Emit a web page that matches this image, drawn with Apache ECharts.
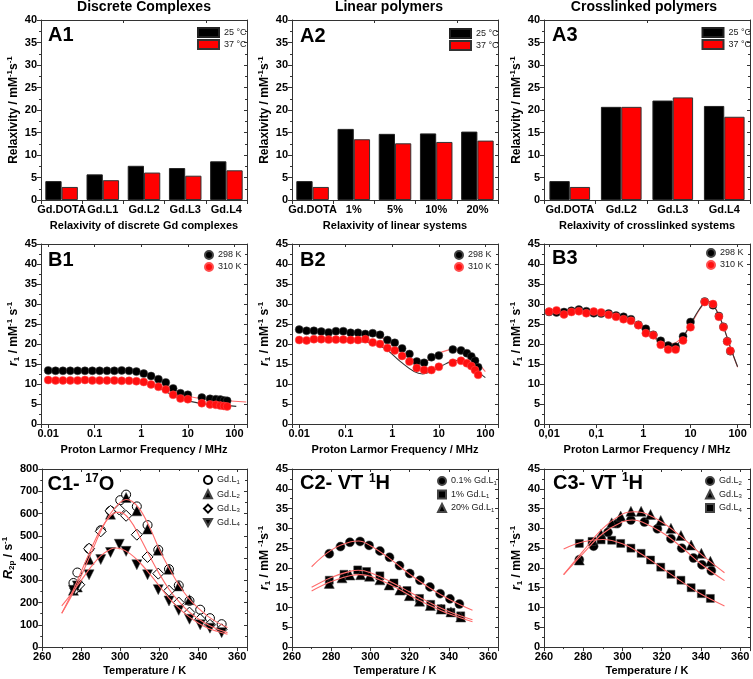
<!DOCTYPE html>
<html><head><meta charset="utf-8">
<script src="https://cdn.jsdelivr.net/npm/echarts@6/dist/echarts.min.js"></script>
<style>html,body{margin:0;padding:0;background:#fff}#c{width:753px;height:679px}</style>
</head><body><div id="c"></div>
<script>
const FONT = '"Liberation Sans", Arial, Helvetica, sans-serif';
const AXC = '#333';

// ---------- Row A : bar data ----------
const A1_CATS = ['Gd.DOTA', 'Gd.L1', 'Gd.L2', 'Gd.L3', 'Gd.L4'];
const A1_25 = [4.2, 5.7, 7.6, 7.1, 8.6];
const A1_37 = [2.9, 4.4, 6.1, 5.4, 6.6];
const A2_CATS = ['Gd.DOTA', '1%', '5%', '10%', '20%'];
const A2_25 = [4.2, 15.8, 14.7, 14.8, 15.2];
const A2_37 = [2.9, 13.5, 12.6, 12.9, 13.2];
const A3_CATS = ['Gd.DOTA', 'Gd.L2', 'Gd.L3', 'Gd.L4'];
const A3_25 = [4.2, 20.7, 22.1, 20.9];
const A3_37 = [2.9, 20.7, 22.8, 18.5];

// ---------- Row B : NMRD data ----------
const FREQ = [0.01, 0.01438, 0.02069, 0.02976, 0.04281, 0.06158, 0.08859, 0.1274, 0.1833, 0.2637, 0.3793, 0.5456, 0.7848, 1.129, 1.624, 2.336, 3.36, 4.833, 6.952, 10, 20, 30, 40, 50, 60, 70];
const B1_298 = [13.4, 13.3, 13.3, 13.3, 13.3, 13.3, 13.3, 13.3, 13.3, 13.3, 13.4, 13.3, 13.1, 12.6, 12.0, 11.2, 10.4, 8.9, 7.7, 7.3, 6.6, 6.3, 6.2, 6.1, 5.9, 5.8];
const B1_310 = [11.0, 10.9, 10.9, 10.9, 10.9, 11.0, 10.9, 10.9, 10.9, 10.9, 10.8, 10.8, 10.7, 10.5, 9.9, 9.3, 8.6, 7.3, 6.4, 6.2, 5.2, 4.9, 4.8, 4.6, 4.5, 4.4];
const B1_FIT_RED = [[0.01, 13.3], [0.1, 13.3], [0.5, 13.2], [1, 12.9], [1.5, 12.3], [2, 11.6], [3, 10.4], [5, 8.8], [7, 7.8], [10, 7.0], [20, 6.3], [40, 6.0], [70, 5.8], [100, 5.7], [180, 5.5]];
const B1_FIT_BLK = [[0.01, 11.0], [0.1, 11.0], [0.5, 10.9], [1, 10.6], [1.5, 10.1], [2, 9.5], [3, 8.4], [5, 7.1], [7, 6.3], [10, 5.8], [20, 5.1], [40, 4.8], [70, 4.6], [110, 4.4]];

const B2_298 = [23.6, 23.3, 23.3, 23.1, 22.9, 23.2, 23.2, 22.8, 22.8, 22.5, 22.7, 22.3, 21.0, 20.3, 18.9, 17.5, 15.6, 15.3, 16.7, 17.1, 18.6, 18.4, 17.7, 16.9, 15.8, 14.2];
const B2_310 = [21.0, 20.9, 21.2, 21.2, 21.1, 21.1, 21.1, 21.0, 21.0, 21.2, 20.4, 20.0, 19.0, 18.4, 17.0, 15.6, 14.0, 13.5, 13.5, 14.3, 15.3, 15.8, 15.2, 14.5, 13.5, 12.3];
const B2_FIT_RED = [[0.01, 23.3], [0.05, 23.1], [0.25, 22.9], [0.5, 22.0], [0.92, 20.2], [1.5, 18.2], [2.1, 16.9], [3, 16.0], [4.8, 15.6], [7, 16.4], [9.3, 17.5], [15, 18.4], [21.5, 18.7], [30, 18.5], [41.5, 17.7], [60, 16.0], [100, 13.1]];
const B2_FIT_BLK = [[0.01, 20.9], [0.05, 20.8], [0.25, 20.5], [0.66, 19.0], [1.5, 15.6], [2.95, 13.1], [4.5, 12.5], [8, 13.5], [12, 14.6], [18, 15.6], [27.5, 15.9], [40, 15.2], [49, 14.4], [70, 13.0], [100, 11.6]];

const B3_298 = [28.0, 27.9, 28.0, 28.3, 28.6, 28.2, 27.7, 27.6, 27.6, 27.1, 26.8, 26.2, 24.8, 23.8, 22.3, 20.8, 19.6, 19.3, 21.9, 25.5, 30.6, 29.7, 27.0, 24.3, 20.7, 18.2];
const B3_310 = [28.1, 28.4, 27.4, 28.0, 28.2, 27.7, 28.1, 27.9, 27.3, 26.8, 26.2, 25.8, 24.7, 22.7, 22.2, 19.8, 18.6, 18.6, 20.9, 24.2, 30.5, 30.0, 26.8, 24.2, 20.6, 18.3];
const B3_FIT_BLK = [[0.8, 25.0], [1, 24.3], [1.5, 22.6], [2, 21.1], [3, 19.5], [4, 19.2], [5, 19.6], [7, 21.8], [10, 25.0], [15, 28.5], [20, 30.3], [25, 30.6], [30, 29.8], [40, 27.2], [50, 24.3], [60, 21.6], [70, 19.2], [100, 14.3]];
const B3_FIT_RED = [[0.8, 24.5], [1, 23.4], [1.5, 21.9], [2, 20.9], [3, 20.2], [4, 20.1], [5, 20.4], [7, 21.9], [10, 24.6], [15, 28.3], [20, 30.2], [25, 30.7], [30, 30.0], [40, 27.3], [50, 24.3], [60, 21.6], [70, 19.2], [100, 14.2]];

const LOG_LABELS = {'-2': '0.01', '-1': '0.1', '0': '1', '1': '10', '2': '100'};
const LOG_LABELS_COMMA = {'-2': '0,01', '-1': '0,1', '0': '1', '1': '10', '2': '100'};

// ---------- Row C : temperature data ----------
const C1_L1 = [[276, 288], [278, 335], [284, 442], [290, 525], [295, 612], [300, 660], [303, 685], [308.5, 632], [314, 548], [319.5, 437], [325, 350], [330, 277], [335.5, 208], [341, 168], [346, 130], [352, 103]];
const C1_L2 = [[276, 255], [278, 270], [284, 393], [295, 597], [303, 672], [308.5, 612], [314, 530], [319.5, 435], [325, 350], [330, 275], [335.5, 213]];
const C1_L3 = [[277, 262], [279, 280], [284, 442], [290, 520], [295, 612], [299.5, 618], [303, 590], [308.5, 505], [314, 405], [319.5, 330], [325, 253], [330, 200], [335.5, 155], [341, 125], [346, 100], [352, 80]];
const C1_L4 = [[276, 255], [278, 275], [284, 325], [290, 393], [295, 425], [299.5, 462], [303, 430], [308.5, 370], [314, 325], [319.5, 258], [325, 207], [330, 165], [335.5, 125], [341, 100], [346, 85], [352, 65]];
const C1_FIT_A = [[270, 152], [275, 230], [280, 320], [285, 420], [290, 520], [295, 600], [300, 650], [303, 663], [306, 655], [310, 620], [315, 540], [320, 440], [325, 355], [330, 280], [335, 220], [340, 175], [345, 138], [350, 110], [355, 88]];
const C1_FIT_B = [[270, 152], [275, 240], [280, 340], [285, 440], [290, 530], [295, 590], [298, 605], [300, 605], [305, 570], [310, 495], [315, 410], [320, 330], [325, 260], [330, 205], [335, 160], [340, 127], [345, 100], [350, 80], [355, 65]];
const C1_FIT_C = [[270, 185], [275, 240], [280, 300], [285, 360], [290, 410], [295, 440], [298, 445], [300, 443], [305, 420], [310, 380], [315, 330], [320, 275], [325, 220], [330, 175], [335, 138], [340, 108], [345, 85], [350, 70], [355, 58]];

const C2_01 = [[279, 23.6], [284.7, 25.4], [289.5, 26.5], [294.7, 26.7], [299.3, 25.7], [304.8, 24.3], [309.7, 22.7], [314.8, 20.6], [320, 18.6], [325.2, 16.9], [330.3, 15.2], [335.5, 13.5], [340.5, 12.2], [345.3, 10.9]];
const C2_1 = [[279, 16.9], [286.5, 18.4], [293.5, 19.5], [298, 19.1], [304.8, 18.0], [312, 16.2], [318.6, 14.3], [325, 12.3], [330.7, 10.8], [336, 9.7], [341, 8.8], [346, 7.9]];
const C2_20 = [[279, 16.1], [285.5, 17.5], [289.5, 18.2], [295, 18.3], [299.5, 17.9], [304.8, 17.0], [309.5, 15.7], [315, 14.4], [319.8, 13.0], [325, 11.6], [330.5, 10.5], [336, 9.6], [341, 8.9], [346, 7.6]];
const C2_FIT_A = [[270, 20.3], [280, 24.5], [290, 26.6], [294, 26.8], [300, 25.6], [310, 22.3], [320, 18.4], [330, 15.0], [340, 12.1], [352, 9.3]];
const C2_FIT_B = [[270, 15.1], [280, 17.6], [290, 19.2], [294, 19.4], [300, 18.8], [310, 16.6], [320, 13.9], [330, 11.3], [340, 9.0], [352, 6.9]];
const C2_FIT_C = [[270, 14.2], [280, 16.6], [290, 18.1], [295, 18.3], [300, 17.9], [310, 15.8], [320, 13.1], [330, 10.6], [340, 8.4], [352, 6.4]];

const C3_L2 = [[278, 22.1], [285.3, 25.5], [292.6, 29.0], [297.4, 31.2], [304.3, 32.1], [311.2, 31.6], [317.8, 29.9], [324.7, 27.4], [330.2, 25.0], [336.2, 22.5], [340.5, 20.8], [345.3, 19.3]];
const C3_L3 = [[278, 22.0], [289.1, 28.5], [294.5, 31.4], [299.1, 33.1], [304.3, 34.3], [309.5, 34.3], [314.3, 33.5], [319.5, 32.0], [324.7, 30.0], [329.8, 28.2], [335, 25.8], [340.2, 23.7], [344.8, 21.7]];
const C3_L4 = [[278, 26.2], [284.5, 26.7], [289.1, 27.1], [294.5, 27.0], [299.1, 26.2], [304.3, 25.0], [309.5, 23.7], [314.3, 22.0], [319.5, 20.2], [324.7, 18.4], [329.8, 16.9], [335, 15.0], [340.2, 13.5], [344.8, 12.3]];
const C3_FIT_A = [[270, 18.3], [280, 24.3], [290, 30.0], [300, 33.6], [306, 34.2], [310, 34.0], [320, 31.6], [330, 27.9], [340, 23.5], [352, 18.8]];
const C3_FIT_B = [[270, 18.3], [280, 23.7], [290, 28.7], [300, 31.7], [305, 32.1], [310, 31.6], [320, 29.0], [330, 25.3], [340, 21.0], [352, 16.8]];
const C3_FIT_C = [[270, 24.8], [280, 26.6], [290, 27.2], [300, 26.1], [310, 23.4], [320, 20.0], [330, 16.6], [340, 13.4], [352, 10.4]];

// ---------- layout ----------
const COLS = [41, 292, 544], ROWS = [20, 244, 469], GW = 206, GH = 180;
const grids = [], xAxes = [], yAxes = [], series = [], legends = [], graphics = [];

const NAME_RICH = {
  n: {fontFamily: FONT, fontWeight: 'bold', fontSize: 12, color: '#000', lineHeight: 15},
  i: {fontFamily: FONT, fontWeight: 'bold', fontStyle: 'italic', fontSize: 13, color: '#000', lineHeight: 15},
  s: {fontFamily: FONT, fontWeight: 'bold', fontSize: 8, color: '#000', lineHeight: 8, verticalAlign: 'top'},
  b: {fontFamily: FONT, fontWeight: 'bold', fontSize: 8, color: '#000', lineHeight: 8, verticalAlign: 'bottom'}
};

function lbl(fmt, cat) {
  const o = {show: true, color: '#000', fontFamily: FONT, fontWeight: 'bold', fontSize: 11, margin: 4};
  if (fmt) o.formatter = fmt;
  if (cat) o.interval = 0;
  return o;
}
function axisPair(list, gi, c, isX) {
  const base = {gridIndex: gi, type: c.type, splitLine: {show: false}, minorSplitLine: {show: false},
    axisLine: {show: true, onZero: false, lineStyle: {color: AXC, width: 1}}};
  if (c.data) base.data = c.data;
  if (c.min !== undefined) base.min = c.min;
  if (c.max !== undefined) base.max = c.max;
  if (c.interval !== undefined) base.interval = c.interval;
  if (c.type === 'log') base.logBase = 10;
  const idx = list.length;
  const main = Object.assign({}, base, {
    position: isX ? 'bottom' : 'left',
    axisTick: {show: true, inside: false, length: 4, lineStyle: {color: AXC, width: 1}},
    minorTick: {show: !!c.minor, splitNumber: 2, length: 2, lineStyle: {color: AXC, width: 1}},
    axisLabel: lbl(c.fmt, c.type === 'category'),
    name: c.name || '', nameLocation: 'middle', nameGap: c.gap,
    nameTextStyle: {fontFamily: FONT, fontWeight: 'bold', fontSize: isX ? 11 : 12, color: '#000', lineHeight: 15, rich: NAME_RICH}
  });
  const mirror = Object.assign({}, base, {
    position: isX ? 'top' : 'right',
    axisTick: {show: true, inside: true, length: 3, lineStyle: {color: AXC, width: 1}},
    minorTick: {show: !!c.minor, splitNumber: 2, length: 2, lineStyle: {color: AXC, width: 1}},
    axisLabel: {show: false}
  });
  list.push(main, mirror);
  return idx;
}
function addGrid(col, row, xc, yc) {
  const gi = grids.length;
  grids.push({left: COLS[col], top: ROWS[row], width: GW, height: GH, containLabel: false});
  return {x: axisPair(xAxes, gi, xc, true), y: axisPair(yAxes, gi, yc, false)};
}
function txt(x, y, text, size, align, rich) {
  const st = {text: text, x: x, y: y, font: 'bold ' + size + 'px ' + FONT, fill: '#000',
    align: align, textAlign: align, verticalAlign: 'middle', textVerticalAlign: 'middle'};
  if (rich) st.rich = rich;
  graphics.push({type: 'text', x: 0, y: 0, z: 100, style: st, silent: true});
}

// headers
txt(144, 7, 'Discrete Complexes', 14, 'center');
txt(389, 7, 'Linear polymers', 14, 'center');
txt(644, 7, 'Crosslinked polymers', 14, 'center');

// ---------- Row A ----------
const A_NAME = '{n|Relaxivity / mM}{s|-1}{n|s}{s|-1}';
const A_SETS = [
  [A1_CATS, A1_25, A1_37, 'Relaxivity of discrete Gd complexes', 'A1', 48, 35.5, 197, 27],
  [A2_CATS, A2_25, A2_37, 'Relaxivity of linear systems', 'A2', 300, 36.5, 449, 28],
  [A3_CATS, A3_25, A3_37, 'Relaxivity of crosslinked systems', 'A3', 552, 35, 701.5, 27]
];
A_SETS.forEach((s, c) => {
  const ax = addGrid(c, 0,
    {type: 'category', data: s[0], name: s[3], gap: 18},
    {type: 'value', min: 0, max: 40, interval: 5, minor: true, name: A_NAME, gap: 18});
  series.push({type: 'bar', name: '25 °C', xAxisIndex: ax.x, yAxisIndex: ax.y, data: s[1],
    barGap: '0%', barCategoryGap: '21%', itemStyle: {color: '#000', borderColor: '#222', borderWidth: 1}});
  series.push({type: 'bar', name: '37 °C', xAxisIndex: ax.x, yAxisIndex: ax.y, data: s[2],
    barGap: '0%', barCategoryGap: '21%', itemStyle: {color: '#ff0000', borderColor: '#333', borderWidth: 1}});
  legends.push({data: ['25 °C', '37 °C'], orient: 'vertical', left: s[7], top: s[8], padding: 0,
    itemWidth: 21, itemHeight: 9, itemGap: 1, icon: 'rect', selectedMode: false,
    textStyle: {fontFamily: FONT, fontSize: 9, color: '#222'}});
  txt(s[5], s[6], s[4], 20, 'left');
});

// ---------- Row B ----------
const B_NAME = '{i|r}{b|1}{n| / mM}{s|-1}{n| s}{s|-1}';
function logFmt(map) {
  return function (v) {
    const l = Math.log10(v), r = Math.round(l);
    return Math.abs(l - r) < 1e-6 && map[String(r)] !== undefined ? map[String(r)] : '';
  };
}
const B_SETS = [
  [B1_298, B1_310, B1_FIT_RED, B1_FIT_BLK, LOG_LABELS, 'B1', 48, 260, 204, 250, 0.0070, 187],
  [B2_298, B2_310, B2_FIT_RED, B2_FIT_BLK, LOG_LABELS, 'B2', 300, 260, 454, 250, 0.0070, 187],
  [B3_298, B3_310, B3_FIT_RED, B3_FIT_BLK, LOG_LABELS_COMMA, 'B3', 552, 258.7, 706, 248, 0.0078, 183]
];
B_SETS.forEach((s, c) => {
  const ax = addGrid(c, 1,
    {type: 'log', min: s[10], max: s[11], fmt: logFmt(s[4]), name: 'Proton Larmor Frequency / MHz', gap: 18},
    {type: 'value', min: 0, max: 45, interval: 5, minor: true, name: B_NAME, gap: 18});
  series.push({type: 'line', name: 'fitR' + c, xAxisIndex: ax.x, yAxisIndex: ax.y, data: s[2], smooth: 0.4,
    showSymbol: false, symbol: 'none', z: 2, lineStyle: {color: '#ff6b6b', width: 1.1}});
  series.push({type: 'line', name: 'fitK' + c, xAxisIndex: ax.x, yAxisIndex: ax.y, data: s[3], smooth: 0.4,
    showSymbol: false, symbol: 'none', z: 2, lineStyle: {color: '#333', width: 1.1}});
  series.push({type: 'scatter', name: '298 K', xAxisIndex: ax.x, yAxisIndex: ax.y, z: 3,
    data: FREQ.map((f, i) => [f, s[0][i]]), symbol: 'circle', symbolSize: 8,
    itemStyle: {color: '#000', borderColor: '#444', borderWidth: 0.5, opacity: 1}});
  series.push({type: 'scatter', name: '310 K', xAxisIndex: ax.x, yAxisIndex: ax.y, z: 3,
    data: FREQ.map((f, i) => [f, s[1][i]]), symbol: 'circle', symbolSize: 8,
    itemStyle: {color: '#ff1010', borderColor: '#ff5050', borderWidth: 0.5, opacity: 1}});
  legends.push({data: ['298 K', '310 K'], orient: 'vertical', left: s[8], top: s[9], padding: 0,
    itemWidth: 8, itemHeight: 8, itemGap: 2, selectedMode: false,
    textStyle: {fontFamily: FONT, fontSize: 9, color: '#222'}});
  txt(s[6], s[7], s[5], 20, 'left');
});

// ---------- Row C ----------
const DOWN_TRI = 'path://M0,0L10,0L5,9Z';
const OPEN = {color: '#fff', borderColor: '#000', borderWidth: 1, opacity: 1};
const FILL = {color: '#000', borderColor: '#444', borderWidth: 0.5, opacity: 1};
const C_SETS = [
  {name: '{i|R}{b|2p}{n| / s}{s|-1}', y: {min: 0, max: 800, interval: 100},
   pts: [['C1|Gd.L1', C1_L1, 'circle', 9, OPEN], ['C1|Gd.L2', C1_L2, 'triangle', 10, FILL],
         ['C1|Gd.L3', C1_L3, 'diamond', 11, OPEN], ['C1|Gd.L4', C1_L4, DOWN_TRI, 10, FILL]],
   fits: [C1_FIT_A, C1_FIT_B, C1_FIT_C], label: '{a|C1- }{s|17}{a|O}', lx: 47.5, ly: 484, gx: 203, gy: 475, gap: 4.3},
  {name: '{i|r}{b|1}{n| / mM }{s|-1}{n|s}{s|-1}', y: {min: 0, max: 45, interval: 5},
   pts: [['C2|0.1% Gd.L1', C2_01, 'circle', 9, FILL], ['C2|1% Gd.L1', C2_1, 'rect', 8, FILL],
         ['C2|20% Gd.L1', C2_20, 'triangle', 10, FILL]],
   fits: [C2_FIT_A, C2_FIT_B, C2_FIT_C], label: '{a|C2- VT }{s|1}{a|H}', lx: 300, ly: 483.7, gx: 437, gy: 476, gap: 3.5},
  {name: '{i|r}{b|1}{n| / mM }{s|-1}{n|s}{s|-1}', y: {min: 0, max: 45, interval: 5},
   pts: [['C3|Gd.L2', C3_L2, 'circle', 9, FILL], ['C3|Gd.L3', C3_L3, 'triangle', 10, FILL],
         ['C3|Gd.L4', C3_L4, 'rect', 8, FILL]],
   fits: [C3_FIT_A, C3_FIT_B, C3_FIT_C], label: '{a|C3- VT }{s|1}{a|H}', lx: 553, ly: 483, gx: 705, gy: 476, gap: 3.5}
];
const LABEL_RICH = {
  a: {font: 'bold 20px ' + FONT, fill: '#000', lineHeight: 22},
  s: {font: 'bold 12px ' + FONT, fill: '#000', lineHeight: 12, verticalAlign: 'top'}
};
C_SETS.forEach((s, c) => {
  const ax = addGrid(c, 2,
    {type: 'value', min: 260, max: 365, interval: 20, minor: true,
     fmt: v => (v % 20 === 0 ? String(v) : ''), name: 'Temperature / K', gap: 15},
    Object.assign({type: 'value', minor: true, name: s.name, gap: c === 0 ? 24 : 18}, s.y));
  s.pts.forEach(p => {
    series.push({type: 'scatter', name: p[0], xAxisIndex: ax.x, yAxisIndex: ax.y, data: p[1], z: 3,
      symbol: p[2], symbolSize: p[3], itemStyle: p[4]});
  });
  s.fits.forEach((f, k) => {
    series.push({type: 'line', name: 'fitC' + c + k, xAxisIndex: ax.x, yAxisIndex: ax.y, data: f, smooth: 0.4,
      showSymbol: false, symbol: 'none', z: 4, lineStyle: {color: '#ff6b6b', width: 1.1}});
  });
  legends.push({data: s.pts.map(p => p[0]), orient: 'vertical', left: s.gx, top: s.gy, padding: 0,
    itemWidth: 8, itemHeight: 8, itemGap: s.gap, selectedMode: false,
    formatter: function (n) {
      const t = n.split('|')[1]; const m = t.match(/^(.*?)(\d)$/);
      return '{n|' + m[1] + '}{d|' + m[2] + '}';
    },
    textStyle: {fontFamily: FONT, fontSize: 9, color: '#222', rich: {
      n: {fontFamily: FONT, fontSize: 9, color: '#222', lineHeight: 10},
      d: {fontFamily: FONT, fontSize: 6, color: '#222', lineHeight: 6, verticalAlign: 'bottom'}}}});
  txt(s.lx, s.ly, s.label, 20, 'left', LABEL_RICH);
});

const chart = echarts.init(document.getElementById('c'), null, {renderer: 'canvas'});
chart.setOption({
  animation: false,
  backgroundColor: '#fff',
  grid: grids, xAxis: xAxes, yAxis: yAxes, series: series, legend: legends,
  graphic: {elements: graphics}
});
</script></body></html>
